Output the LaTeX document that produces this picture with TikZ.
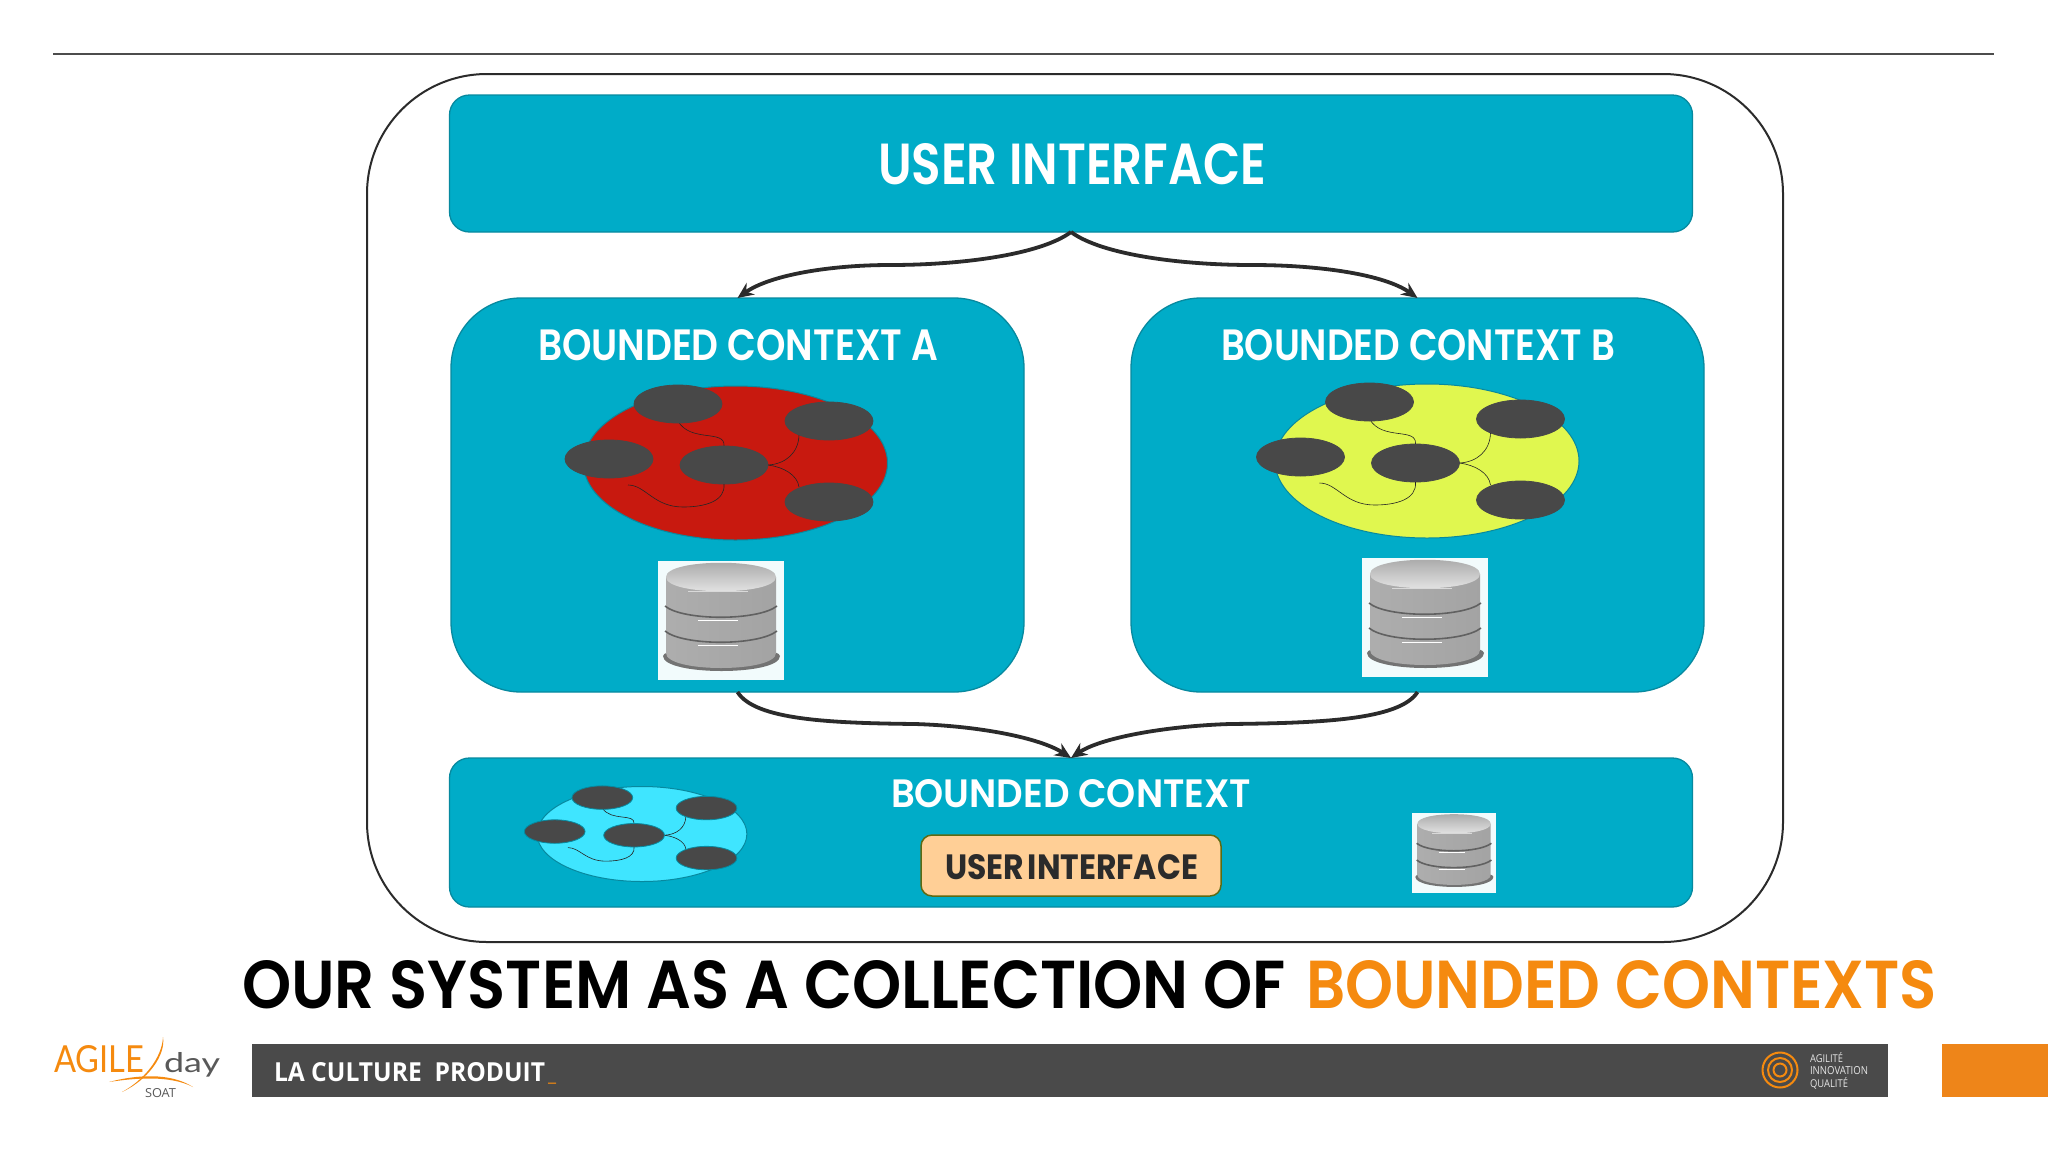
\documentclass[tikz,border=0pt]{standalone}
\usepackage{graphicx}
\usepackage{fontspec}
\usetikzlibrary{shapes.geometric,arrows.meta}
\setmainfont{Poppins}
\newfontfamily\psb{Poppins SemiBold}
\newfontfamily\osans{Open Sans}
\newfontfamily\lgt{Lato}
\definecolor{teal}{HTML}{00ACC8}
\definecolor{tealedge}{HTML}{07899F}
\definecolor{ink}{HTML}{2B2B2B}
\definecolor{blob}{HTML}{484848}
\definecolor{orng}{HTML}{F58A0F}
\definecolor{tabc}{HTML}{EE8519}
\definecolor{barc}{HTML}{4A4A4A}
\definecolor{redc}{HTML}{C8190F}
\definecolor{yelc}{HTML}{E0F74F}
\definecolor{cyac}{HTML}{3FE5FF}
\definecolor{peach}{HTML}{FFCF96}
\definecolor{olive}{HTML}{5E6A12}
\newcommand{\fit}[3]{\resizebox{#1pt}{#2pt}{#3}}
\tikzset{
  panel/.style={draw=tealedge,line width=1.3pt,fill=teal,rounded corners=#1,inner sep=0pt,outer sep=0pt},
  txt/.style={inner sep=0pt,outer sep=0pt,anchor=base west},
  conn/.style={draw=ink,line width=3.8pt,-{Stealth[length=16pt,width=14pt]}},
  blobnode/.style={ellipse,fill=blob,draw=#1,line width=0.8pt,minimum width=88pt,minimum height=38pt,inner sep=0pt,outer sep=0pt,transform shape},
  link/.style={draw=black!85,line width=0.6pt},
}
% cluster: prefix, cx, cy, sx, sy, fill, blob outline
\newcommand{\cluster}[7]{%
\begin{scope}[shift={(#2,#3)},xscale=#4,yscale=#5]
  \node[ellipse,fill=#6,draw=tealedge,line width=1pt,minimum width=304pt,minimum height=154pt,inner sep=0pt,transform shape] (#1o) at (0,0) {};
  \draw[link] (-57.5,-42) .. controls (-45,-20) and (-10,-34) .. (-11.5,-17);
  \draw[link] (63.5,-28) .. controls (63,-10) and (50,1) .. (32.5,2);
  \draw[link] (32.5,2) .. controls (48,4) and (62,12) .. (63.5,24);
  \coordinate (#1f) at (-107.5,22);
  \node[blobnode=#7] (#1a) at (-57.5,-59) {};
  \node[blobnode=#7] (#1b) at (93.5,-42) {};
  \node[blobnode=#7] (#1c) at (-126.5,-4) {};
  \node[blobnode=#7] (#1d) at (-11.5,2) {};
  \node[blobnode=#7] (#1e) at (93.5,39) {};
  \draw[link] (#1f) .. controls (-90,22) and (-82,44) .. (-52.5,44) .. controls (-30,44) and (-10,38) .. (#1d.south);
\end{scope}}
% database icon: x, y, sx, sy (local box 126 x 119)
\newcommand{\dbicon}[4]{%
\begin{scope}[shift={(#1,#2)},xscale=#3,yscale=#4]
  \fill[white!95!teal] (0,0) rectangle (126,119);
  \fill[black!55] (5,95) .. controls (5,115) and (122,115) .. (122,95) .. controls (122,84) and (5,84) .. (5,95) -- cycle;
  \shade[left color=black!32,middle color=black!12,right color=black!36] (8,16) -- (8,92) .. controls (8,112) and (118,112) .. (118,92) -- (118,16) -- cycle;
  \shade[top color=black!36,bottom color=black!8] (8,16) .. controls (8,-3) and (118,-3) .. (118,16) .. controls (118,35) and (8,35) .. (8,16) -- cycle;
  \draw[black!62,line width=1.6pt] (7,45) .. controls (25,60) and (100,60) .. (119,45);
  \draw[black!62,line width=1.6pt] (7,70) .. controls (25,85) and (100,85) .. (119,70);
  \draw[white,line width=0.8pt] (40,59) -- (80,59);
  \draw[white,line width=0.8pt] (40,84) -- (80,84);
  \draw[white!85!black,line width=0.8pt] (30,30) -- (90,30);
\end{scope}}
\begin{document}
\begin{tikzpicture}[x=1pt,y=-1pt]
\useasboundingbox (0,0) rectangle (2048,1152);
\fill[white] (0,0) rectangle (2048,1152);
\coordinate (ruleL) at (53,54);
\coordinate (ruleR) at (1994,54);
\draw[black!70,line width=1.6pt] (ruleL) -- (ruleR);
% outer frame
\node[draw=ink,line width=2pt,fill=white,rounded corners=120pt,minimum width=1416pt,minimum height=868pt,inner sep=0pt,outer sep=0pt] (frame) at (1075,508) {};
% panels
\node[panel=20pt,minimum width=1243pt,minimum height=137pt] (ui) at (1071,163.5) {};
\node[panel=70pt,minimum width=573pt,minimum height=394pt] (a) at (737.5,495) {};
\node[panel=70pt,minimum width=573pt,minimum height=394pt] (b) at (1417.5,495) {};
\node[panel=20pt,minimum width=1243pt,minimum height=149pt] (bot) at (1071,832.5) {};
% connectors
\coordinate (m1) at (890,265);
\coordinate (m2) at (1252,265);
\coordinate (m3) at (915,724);
\coordinate (m4) at (1230,724);
\draw[conn] (ui.south) .. controls (1040,255) and (960,265) .. (m1) .. controls (830,265) and (770,275) .. (a.north);
\draw[conn] (ui.south) .. controls (1102,255) and (1182,265) .. (m2) .. controls (1322,265) and (1385,275) .. (b.north);
\draw[conn] (a.south) .. controls (755,720) and (830,723) .. (m3) .. controls (980,726) and (1040,738) .. (bot.north);
\draw[conn] (b.south) .. controls (1400,720) and (1320,723) .. (m4) .. controls (1165,726) and (1100,738) .. (bot.north);
% titles
\node[txt,text=white] (tui) at (878,184) {\fit{388}{41}{\psb USER INTERFACE}};
\node[txt,text=white] (ta) at (538,360) {\fit{400}{31}{\psb BOUNDED CONTEXT A}};
\node[txt,text=white] (tb) at (1221,360) {\fit{394}{31}{\psb BOUNDED CONTEXT B}};
\node[txt,text=white] (tc) at (891,807) {\fit{360}{28}{\psb BOUNDED CONTEXT}};
% clusters and databases
\cluster{ca}{735.5}{463}{1}{1}{redc}{blob}
\cluster{cb}{1427}{461}{1}{1}{yelc}{blob}
\cluster{cc}{642}{834}{0.69}{0.617}{cyac}{tealedge}
\dbicon{658}{561}{1}{1}
\dbicon{1362}{558}{1}{1}
\dbicon{1412}{813}{0.667}{0.672}
% inner user interface box
\node[draw=olive,line width=1.5pt,fill=peach,rounded corners=11pt,minimum width=300pt,minimum height=61pt,inner sep=0pt,outer sep=0pt] (inner) at (1071,865.5) {};
\node[txt,text=ink] (tinner) at (945,879) {\fit{253}{25}{\bfseries USER\hspace{.12em}INTERFACE}};
% headline
\node[txt,text=black] (head) at (242,1008) {\fit{1044}{48}{\psb OUR SYSTEM AS A COLLECTION OF}};
\node[txt,text=orng] (headb) at (1306,1008) {\fit{631}{48}{\psb BOUNDED CONTEXTS}};
% footer
\node[fill=barc,minimum width=1636pt,minimum height=53pt,inner sep=0pt,outer sep=0pt] (bar) at (1070,1070.5) {};
\node[fill=tabc,minimum width=106pt,minimum height=53pt,inner sep=0pt,outer sep=0pt] (tab) at (1995,1070.5) {};
\node[txt,text=white] (prod) at (274,1081) {\fit{271}{19}{\osans\bfseries LA CULTURE\ \ PRODUIT}};
\node[txt,text=orng] (uscore) at (548,1081) {\osans\fontsize{18}{18}\selectfont\_};
\draw[orng,line width=2pt] (1780,1070) circle[radius=17.5];
\draw[orng,line width=2pt] (1780,1070) circle[radius=12];
\draw[orng,line width=2pt] (1780,1070) circle[radius=6.5];
\node[txt,text=white!90!black] (l1) at (1810,1062) {\fit{33}{10}{\osans AGILITÉ}};
\node[txt,text=white!90!black] (l2) at (1810,1074) {\fit{58}{8}{\osans INNOVATION}};
\node[txt,text=white!90!black] (l3) at (1810,1087) {\fit{38}{10}{\osans QUALITÉ}};
% logo
\node[txt,text=orng] (agile) at (54,1072) {\fit{90}{27}{\lgt AGILE}};
\node[txt,text=black!65] (day) at (164,1072) {\fit{56}{20}{\lgt day}};
\node[txt,text=black!65] (soat) at (145,1097) {\fit{31}{9}{\osans SOAT}};
\fill[orng] (163,1037) .. controls (166,1055) and (148,1080) .. (122,1092) .. controls (144,1080) and (162,1058) .. (163,1037) -- cycle;
\fill[orng] (109,1082) .. controls (135,1075) and (170,1072) .. (193,1087) .. controls (170,1075) and (135,1078) .. (109,1082) -- cycle;
\end{tikzpicture}
\end{document}
